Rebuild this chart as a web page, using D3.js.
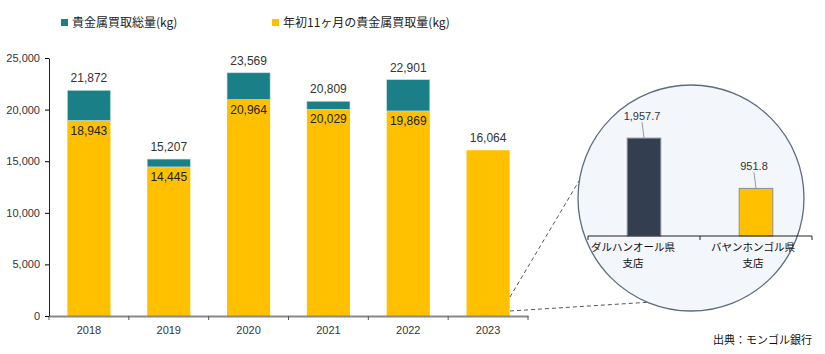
<!DOCTYPE html>
<html>
<head>
<meta charset="utf-8">
<script src="https://cdn.jsdelivr.net/npm/d3@7"></script>
<style>
  body { margin: 0; background: #fff; }
  text { font-family: "Liberation Sans", Arial, sans-serif; }
  .jp { font-family: "Noto Sans CJK JP", "Noto Sans", sans-serif; }
</style>
</head>
<body>
<script>
// precious metal purchases by year + inset for 2 branches
var years = ["2018", "2019", "2020", "2021", "2022", "2023"];
var totalKg = [21872, 15207, 23569, 20809, 22901, null];
var first11Kg = [18943, 14445, 20964, 20029, 19869, 16064];
var yTicks = [0, 5000, 10000, 15000, 20000, 25000];

var branches = ["ダルハンオール県支店", "バヤンホンゴル県支店"];
var branchLines = [["ダルハンオール県", "支店"], ["バヤンホンゴル県", "支店"]];
var branchKg = [1957.7, 951.8];

var legendNames = ["貴金属買取総量(kg)", "年初11ヶ月の貴金属買取量(kg)"];

var teal = "#1b7f87", yellow = "#ffc000", navy = "#333f50";

var svg = d3.select("body").append("svg")
    .attr("width", 825)
    .attr("height", 354);

// scales
var x = d3.scaleBand()
    .domain(years)
    .range([49, 528])
    .paddingInner(0.46)
    .paddingOuter(0.23);

var y = d3.scaleLinear()
    .domain([0, 25000])
    .range([316, 58]);

var fmt = d3.format(",");

var rows = years.map(function(yr, i) {
    return {year: yr, total: totalKg[i], part: first11Kg[i]};
});

// yellow = first 11 months
svg.selectAll(".ybar")
    .data(rows)
    .enter().append("rect")
    .attr("class", "ybar")
    .attr("x", function(d) { return x(d.year); })
    .attr("width", x.bandwidth())
    .attr("y", function(d) { return y(d.part); })
    .attr("height", function(d) { return y(0) - y(d.part); })
    .attr("fill", yellow);

// teal = remaining part of annual total
svg.selectAll(".tbar")
    .data(rows.filter(function(d) { return d.total != null; }))
    .enter().append("rect")
    .attr("class", "tbar")
    .attr("x", function(d) { return x(d.year); })
    .attr("width", x.bandwidth())
    .attr("y", function(d) { return y(d.total); })
    .attr("height", function(d) { return y(d.part) - y(d.total); })
    .attr("fill", teal)
    .attr("stroke", "#bfe3e6")
    .attr("stroke-width", 0.6);

// top labels
svg.selectAll(".toplabel")
    .data(rows)
    .enter().append("text")
    .attr("x", function(d) { return x(d.year) + x.bandwidth() / 2; })
    .attr("y", function(d) { return y(d.total != null ? d.total : d.part) - 8; })
    .attr("text-anchor", "middle")
    .attr("font-size", 12)
    .attr("fill", "#333")
    .text(function(d) { return fmt(d.total != null ? d.total : d.part); });

// inner labels
svg.selectAll(".inlabel")
    .data(rows.filter(function(d) { return d.total != null; }))
    .enter().append("text")
    .attr("x", function(d) { return x(d.year) + x.bandwidth() / 2; })
    .attr("y", function(d) { return y(d.part) + 14; })
    .attr("text-anchor", "middle")
    .attr("font-size", 12)
    .attr("fill", "#222")
    .text(function(d) { return fmt(d.part); });

// x axis
var xAxis = svg.append("g")
    .attr("transform", "translate(0," + y(0) + ")")
    .call(d3.axisBottom(x).tickSize(0).tickPadding(10));
xAxis.select(".domain").attr("stroke", "#888").attr("stroke-width", 2);
xAxis.selectAll("text").attr("font-size", 11).attr("fill", "#333")
    .style("font-family", "Liberation Sans, Arial, sans-serif");
var edges = d3.range(years.length + 1).map(function(i) { return 49 + i * x.step(); });
xAxis.selectAll(".edge")
    .data(edges)
    .enter().append("line")
    .attr("x1", function(d) { return d; })
    .attr("x2", function(d) { return d; })
    .attr("y1", 0).attr("y2", 4)
    .attr("stroke", "#555");

// y axis
var yAxis = svg.append("g")
    .attr("transform", "translate(49,0)")
    .call(d3.axisLeft(y).tickValues(yTicks).tickFormat(fmt).tickSizeInner(4).tickSizeOuter(0).tickPadding(5));
yAxis.select(".domain").attr("stroke", "#222");
yAxis.selectAll("text").attr("font-size", 11).attr("fill", "#333")
    .style("font-family", "Liberation Sans, Arial, sans-serif");

// legend
var leg = svg.selectAll(".leg")
    .data(legendNames)
    .enter().append("g")
    .attr("transform", function(d, i) { return "translate(" + [61, 272][i] + ",23)"; });
leg.append("rect")
    .attr("x", 0).attr("y", -4)
    .attr("width", 7).attr("height", 7)
    .attr("fill", function(d, i) { return [teal, yellow][i]; });
leg.append("text")
    .attr("class", "jp")
    .attr("x", 11).attr("y", 4)
    .attr("font-size", 12)
    .attr("fill", "#222")
    .text(function(d) { return d; });

// zoom lines
svg.append("line")
    .attr("x1", 510).attr("y1", 297).attr("x2", 579).attr("y2", 181)
    .attr("stroke", "#555").attr("stroke-dasharray", "4,3");
svg.append("line")
    .attr("x1", 510).attr("y1", 311).attr("x2", 652).attr("y2", 302)
    .attr("stroke", "#555").attr("stroke-dasharray", "4,3");

// inset circle
svg.append("circle")
    .attr("cx", 691).attr("cy", 198).attr("r", 113)
    .attr("fill", "#f3f6fb")
    .attr("stroke", "#5d6b80")
    .attr("stroke-width", 1.3);

var bx = d3.scaleBand()
    .domain(branches)
    .range([588, 812])
    .paddingInner(0.7)
    .paddingOuter(0.35);

var by = d3.scaleLinear()
    .domain([0, 2000])
    .range([236, 136]);

svg.selectAll(".bbar")
    .data(branches)
    .enter().append("rect")
    .attr("x", function(d) { return bx(d); })
    .attr("width", bx.bandwidth())
    .attr("y", function(d, i) { return by(branchKg[i]); })
    .attr("height", function(d, i) { return by(0) - by(branchKg[i]); })
    .attr("fill", function(d, i) { return [navy, yellow][i]; })
    .attr("stroke", "#8a8f96")
    .attr("stroke-width", 1);

// leader lines + value labels
svg.selectAll(".blead")
    .data(branches)
    .enter().append("line")
    .attr("x1", function(d) { return bx(d) + bx.bandwidth() / 2 - 2; })
    .attr("x2", function(d) { return bx(d) + bx.bandwidth() / 2 - 0; })
    .attr("y1", function(d, i) { return by(branchKg[i]) - 16; })
    .attr("y2", function(d, i) { return by(branchKg[i]); })
    .attr("stroke", "#999");
svg.selectAll(".blabel")
    .data(branches)
    .enter().append("text")
    .attr("x", function(d) { return bx(d) + bx.bandwidth() / 2 - 2; })
    .attr("y", function(d, i) { return by(branchKg[i]) - 18; })
    .attr("text-anchor", "middle")
    .attr("font-size", 11)
    .attr("fill", "#333")
    .text(function(d, i) { return d3.format(",.1f")(branchKg[i]); });

// inset axis
svg.append("line")
    .attr("x1", 588).attr("x2", 812)
    .attr("y1", by(0)).attr("y2", by(0))
    .attr("stroke", "#222");
svg.selectAll(".btick")
    .data([588, 700, 812])
    .enter().append("line")
    .attr("x1", function(d) { return d; }).attr("x2", function(d) { return d; })
    .attr("y1", by(0)).attr("y2", by(0) + 4)
    .attr("stroke", "#222");

// category names, nudged like the original
var nameShift = [-11, -3];
svg.selectAll(".bname")
    .data(branches)
    .enter().append("text")
    .attr("class", "jp")
    .attr("text-anchor", "middle")
    .attr("font-size", 10.5)
    .attr("fill", "#111")
    .each(function(d, i) {
        var t = d3.select(this);
        var cx = bx(d) + bx.bandwidth() / 2 + nameShift[i];
        branchLines[i].forEach(function(s, k) {
            t.append("tspan")
                .attr("x", cx)
                .attr("y", 251 + k * 16)
                .text(s);
        });
    });

// source
svg.append("text")
    .attr("class", "jp")
    .attr("x", 812).attr("y", 344)
    .attr("text-anchor", "end")
    .attr("font-size", 11)
    .attr("fill", "#111")
    .text("出典：モンゴル銀行");
</script>
</body>
</html>
